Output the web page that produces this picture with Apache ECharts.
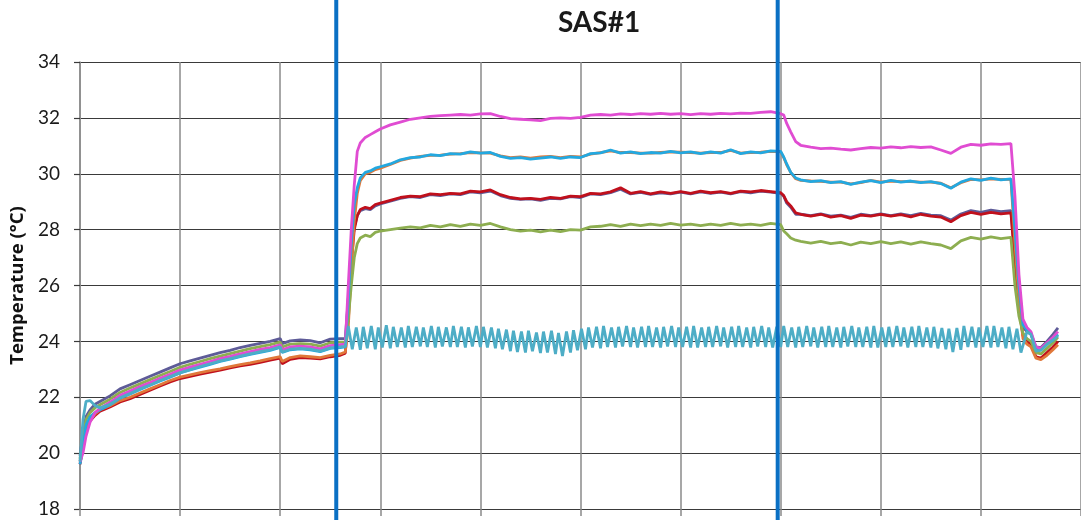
<!DOCTYPE html>
<html>
<head>
<meta charset="utf-8">
<script src="https://cdn.jsdelivr.net/npm/echarts@6/dist/echarts.min.js"></script>
<style>
html,body{margin:0;padding:0;background:#fff;}
#chart{width:1081px;height:520px;}
</style>
</head>
<body>
<div id="chart"></div>
<script>
// ---- Data (x = elapsed time in grid units: 100 per major gridline) ----
const titleText = 'SAS#1';
const yAxisName = 'Temperature (°C)';
const yTicks = [18, 20, 22, 24, 26, 28, 30, 32, 34];
const markerTimes = [256, 697];

const time = [0,3,6,10,15,20,30,40,50,60,70,80,90,100,110,120,130,140,150,160,170,180,190,200,202,210,220,230,240,250,260,265,
  268,271,274,277,280,285,290,295,300,
  310,320,330,340,350,360,370,380,390,400,410,420,430,440,450,460,470,480,490,500,510,520,530,540,550,560,570,580,590,600,610,620,630,640,650,660,670,680,690,700,
  703,706,710,715,
  720,730,740,750,760,770,780,790,800,810,820,830,840,850,860,870,880,890,900,910,920,930,
  934,938,942,946,950,955,960,966,972,977];

const purple = [19.9,20.7,21.3,21.55,21.75,21.85,22.05,22.3,22.45,22.6,22.75,22.9,23.05,23.2,23.3,23.4,23.5,23.6,23.68,23.78,23.86,23.93,24.0,24.1,23.92,24.02,24.05,24.03,23.95,24.08,24.1,24.1,
  25.5,27.2,28.1,28.5,28.68,28.75,28.72,28.85,28.92,
  29.02,29.12,29.18,29.15,29.25,29.22,29.28,29.25,29.35,29.32,29.38,29.22,29.12,29.08,29.1,29.05,29.12,29.1,29.18,29.15,29.28,29.25,29.32,29.45,29.28,29.33,29.26,29.32,29.28,29.34,29.28,29.35,29.3,29.34,29.28,29.36,29.32,29.38,29.34,29.3,
  29.2,28.95,28.8,28.55,
  28.55,28.5,28.56,28.48,28.52,28.44,28.55,28.5,28.56,28.5,28.56,28.5,28.58,28.52,28.5,28.34,28.56,28.68,28.62,28.7,28.64,28.68,
  27.0,25.5,24.5,24.35,24.25,23.8,23.78,24.0,24.25,24.48];

const darkRed = [19.6,20.2,20.8,21.15,21.35,21.5,21.65,21.83,21.95,22.1,22.25,22.4,22.55,22.67,22.75,22.83,22.9,22.97,23.05,23.12,23.18,23.25,23.33,23.4,23.2,23.36,23.42,23.4,23.37,23.45,23.5,23.58,
  25.0,26.8,28.0,28.5,28.72,28.8,28.75,28.9,28.95,
  29.05,29.15,29.2,29.18,29.28,29.25,29.3,29.28,29.38,29.35,29.42,29.25,29.15,29.1,29.12,29.08,29.15,29.12,29.2,29.18,29.3,29.28,29.35,29.5,29.3,29.36,29.28,29.35,29.3,29.36,29.3,29.38,29.32,29.36,29.3,29.38,29.35,29.4,29.36,29.32,
  29.22,29.0,28.85,28.6,
  28.55,28.48,28.55,28.45,28.5,28.4,28.52,28.48,28.55,28.48,28.54,28.46,28.55,28.48,28.45,28.28,28.5,28.62,28.55,28.62,28.56,28.6,
  26.8,25.2,24.2,24.0,23.9,23.45,23.4,23.6,23.8,24.0];

const orange = [19.7,20.3,20.9,21.2,21.4,21.55,21.7,21.88,22.0,22.15,22.3,22.45,22.6,22.72,22.8,22.88,22.95,23.02,23.1,23.17,23.23,23.3,23.38,23.45,23.28,23.42,23.48,23.45,23.42,23.5,23.55,23.62,
  24.5,26.5,28.3,29.3,29.75,30.0,30.05,30.15,30.2,
  30.33,30.48,30.56,30.62,30.66,30.67,30.7,30.72,30.76,30.75,30.74,30.64,30.58,30.6,30.56,30.6,30.62,30.58,30.62,30.6,30.7,30.76,30.82,30.76,30.76,30.74,30.74,30.76,30.78,30.77,30.76,30.74,30.76,30.76,30.84,30.74,30.76,30.77,30.8,30.78,
  30.58,30.32,30.05,29.82,
  29.76,29.74,29.73,29.7,29.7,29.64,29.68,29.76,29.7,29.74,29.72,29.72,29.7,29.7,29.66,29.5,29.68,29.8,29.78,29.82,29.8,29.8,
  27.5,25.5,24.1,23.9,23.8,23.4,23.35,23.5,23.7,23.88];

const green = [19.8,20.5,21.2,21.45,21.62,21.73,21.93,22.17,22.33,22.48,22.63,22.78,22.92,23.07,23.18,23.28,23.38,23.47,23.56,23.65,23.74,23.81,23.88,23.97,23.8,23.9,23.92,23.9,23.83,23.95,23.97,23.98,
  24.8,26.0,27.0,27.5,27.7,27.8,27.75,27.9,27.95,
  28.0,28.05,28.1,28.06,28.15,28.1,28.18,28.12,28.2,28.15,28.22,28.1,28.0,27.95,27.98,27.92,27.98,27.93,28.0,27.98,28.1,28.12,28.18,28.12,28.2,28.14,28.2,28.15,28.22,28.16,28.2,28.14,28.2,28.15,28.22,28.16,28.2,28.15,28.22,28.18,
  27.95,27.85,27.7,27.62,
  27.58,27.52,27.58,27.5,27.54,27.45,27.55,27.5,27.57,27.5,27.56,27.48,27.56,27.5,27.45,27.32,27.6,27.72,27.66,27.74,27.68,27.72,
  26.0,24.9,24.3,24.1,24.0,23.6,23.55,23.75,23.95,24.15];

const cyan = [19.6,20.2,21.0,21.3,21.45,21.55,21.73,21.97,22.12,22.28,22.43,22.58,22.72,22.87,22.98,23.08,23.18,23.28,23.36,23.45,23.53,23.61,23.68,23.78,23.6,23.7,23.73,23.7,23.63,23.75,23.78,23.8,
  25.5,27.5,28.9,29.5,29.85,30.05,30.1,30.2,30.25,
  30.35,30.5,30.58,30.6,30.68,30.65,30.72,30.7,30.78,30.74,30.76,30.62,30.55,30.58,30.52,30.56,30.6,30.55,30.6,30.58,30.72,30.75,30.85,30.74,30.78,30.72,30.76,30.74,30.8,30.75,30.78,30.72,30.78,30.74,30.86,30.72,30.78,30.75,30.82,30.8,
  30.6,30.35,30.05,29.85,
  29.78,29.72,29.75,29.68,29.72,29.62,29.7,29.75,29.68,29.76,29.7,29.74,29.68,29.72,29.65,29.48,29.7,29.82,29.76,29.84,29.78,29.82,
  28.0,26.0,24.6,24.4,24.3,23.75,23.7,23.9,24.05,24.25];

const magenta = [19.7,20.0,20.6,21.1,21.45,21.6,21.82,22.07,22.22,22.38,22.53,22.68,22.82,22.97,23.08,23.18,23.28,23.38,23.46,23.55,23.63,23.71,23.78,23.88,23.7,23.8,23.83,23.8,23.73,23.85,23.88,23.9,
  26.0,28.0,29.6,30.8,31.1,31.3,31.4,31.5,31.6,
  31.75,31.85,31.95,32.0,32.05,32.08,32.1,32.12,32.1,32.14,32.15,32.05,31.97,31.95,31.93,31.9,31.98,32.0,31.98,32.02,32.1,32.12,32.1,32.14,32.12,32.15,32.13,32.16,32.13,32.15,32.12,32.15,32.13,32.16,32.14,32.17,32.16,32.2,32.22,32.15,
  32.1,31.8,31.5,31.15,
  31.02,30.95,30.9,30.92,30.88,30.85,30.9,30.94,30.92,30.96,30.93,30.97,30.94,30.96,30.85,30.73,30.95,31.05,31.02,31.07,31.05,31.08,
  29.2,26.4,24.8,24.5,24.35,23.8,23.75,23.95,24.15,24.35];

const tealTime = [0,3,6,10,15,20,30,40,50,60,70,80,90,100,110,120,130,140,150,160,170,180,190,200,202,210,220,230,240,250,260,265,
  268,272,276,280, 283,287,291,295, 298,302,306,310, 313,317,321,325, 328,332,336,340,
  343,347,351,355, 358,362,366,370, 373,377,381,385, 388,392,396,400, 403,407,411,415,
  418,422,426,430, 433,437,441,445, 448,452,456,460, 463,467,471,475, 478,482,486,490,
  493,497,501,505, 508,512,516,520, 523,527,531,535, 538,542,546,550, 553,557,561,565,
  568,572,576,580, 583,587,591,595, 598,602,606,610, 613,617,621,625, 628,632,636,640,
  643,647,651,655, 658,662,666,670, 673,677,681,685, 688,692,696,700, 703,707,711,715,
  718,722,726,730, 733,737,741,745, 748,752,756,760, 763,767,771,775, 778,782,786,790,
  793,797,801,805, 808,812,816,820, 823,827,831,835, 838,842,846,850, 853,857,861,865,
  868,872,876,880, 883,887,891,895, 898,902,906,910, 913,917,921,925, 928,932,936,940,
  946,950,955,960,966,972,977];

const teal = [19.7,21.2,21.85,21.88,21.7,21.62,21.75,21.98,22.13,22.3,22.44,22.6,22.74,22.88,22.99,23.1,23.2,23.3,23.38,23.47,23.55,23.63,23.7,23.8,23.62,23.72,23.75,23.72,23.65,23.77,23.8,23.82,
  24.55,23.72,24.5,23.7, 24.52,23.75,24.55,23.72, 24.5,23.78,24.58,23.75, 24.52,23.8,24.5,23.78, 24.55,23.8,24.52,23.82,
  24.5,23.8,24.55,23.78, 24.52,23.82,24.5,23.8, 24.55,23.8,24.52,23.78, 24.5,23.82,24.55,23.8, 24.52,23.78,24.5,23.75,
  24.45,23.72,24.42,23.65, 24.38,23.62,24.35,23.6, 24.38,23.65,24.32,23.58, 24.35,23.6,24.38,23.55, 24.3,23.48,24.35,23.6,
  24.4,23.68,24.45,23.72, 24.5,23.78,24.52,23.75, 24.55,23.8,24.5,23.78, 24.52,23.82,24.55,23.8, 24.5,23.78,24.52,23.8,
  24.55,23.8,24.5,23.78, 24.52,23.82,24.55,23.8, 24.5,23.8,24.52,23.78, 24.55,23.78,24.5,23.8, 24.52,23.8,24.55,23.82,
  24.5,23.78,24.52,23.8, 24.55,23.8,24.5,23.78, 24.52,23.82,24.55,23.8, 24.5,23.78,24.52,23.8, 24.55,23.8,24.5,23.78,
  24.52,23.8,24.55,23.82, 24.5,23.78,24.52,23.8, 24.55,23.8,24.5,23.78, 24.52,23.82,24.55,23.8, 24.5,23.8,24.52,23.78,
  24.55,23.78,24.5,23.8, 24.52,23.8,24.55,23.82, 24.5,23.78,24.52,23.8, 24.55,23.8,24.5,23.78, 24.52,23.75,24.48,23.72,
  24.45,23.62,24.48,23.7, 24.55,23.8,24.52,23.78, 24.5,23.8,24.55,23.78, 24.55,23.8,24.5,23.75, 24.52,23.72,24.45,23.6,
  24.35,24.25,23.65,23.68,23.9,24.05,24.2];

// ---- Chart ----
function pairs(xs, ys) { return xs.map((x, i) => [x, ys[i]]); }

const chart = echarts.init(document.getElementById('chart'), null, {renderer: 'canvas'});

const lineSeries = [
  {name: 'purple', color: '#5E5B98', values: purple, xs: time},
  {name: 'darkRed', color: '#C0101C', values: darkRed, xs: time},
  {name: 'orange', color: '#E0783A', values: orange, xs: time},
  {name: 'green', color: '#8DAE50', values: green, xs: time},
  {name: 'cyan', color: '#23A8E0', values: cyan, xs: time},
  {name: 'magenta', color: '#E04CD2', values: magenta, xs: time},
  {name: 'teal', color: '#4DADC6', values: teal, xs: tealTime}
].map(s => ({
  type: 'line', name: s.name, xAxisIndex: 0, yAxisIndex: 0,
  data: pairs(s.xs, s.values), showSymbol: false, symbol: 'none',
  lineStyle: {color: s.color, width: 2.8}, itemStyle: {color: s.color},
  silent: true, z: 3
}));

const markerSeries = markerTimes.map(t => ({
  type: 'line', xAxisIndex: 1, yAxisIndex: 1,
  data: [[t, 0], [t, 1]], showSymbol: false, symbol: 'none',
  lineStyle: {color: '#0A70C4', width: 4}, silent: true, z: 10
}));

chart.setOption({
  animation: false,
  backgroundColor: '#ffffff',
  title: {
    text: titleText, left: 594, top: 4, textAlign: 'center',
    textStyle: {fontFamily: 'Lato', fontWeight: 'bold', fontSize: 28, color: '#1a1a1a'}
  },
  grid: [
    {left: 80, right: -2, top: 62, bottom: 11, containLabel: false},
    {left: 80, right: -2, top: 0, bottom: 0, containLabel: false}
  ],
  xAxis: [
    {
      type: 'value', gridIndex: 0, min: 0, max: 1000, interval: 100,
      axisLabel: {show: false},
      axisLine: {show: true, onZero: false, lineStyle: {color: '#3a3a3a', width: 1.2}},
      axisTick: {show: true, inside: false, length: 7, lineStyle: {color: '#8a8a8a', width: 1.5}},
      splitLine: {show: true, lineStyle: {color: '#8a8a8a', width: 1.5}}
    },
    {type: 'value', gridIndex: 1, min: 0, max: 1000, show: false}
  ],
  yAxis: [
    {
      type: 'value', gridIndex: 0, min: yTicks[0], max: yTicks[yTicks.length - 1], interval: 2,
      name: yAxisName, nameLocation: 'middle', nameGap: 50, nameRotate: 90,
      nameTextStyle: {fontFamily: 'Open Sans', fontWeight: 'bold', fontSize: 18.5, color: '#111'},
      axisLabel: {fontFamily: 'Lato', fontSize: 19, color: '#1a1a1a', margin: 20},
      axisLine: {show: true, lineStyle: {color: '#8a8a8a', width: 1.5}},
      axisTick: {show: true, inside: false, length: 6, lineStyle: {color: '#3a3a3a', width: 1.2}},
      splitLine: {show: true, lineStyle: {color: '#3a3a3a', width: 1.2}}
    },
    {type: 'value', gridIndex: 1, min: 0, max: 1, show: false}
  ],
  series: lineSeries.concat(markerSeries)
});
</script>
</body>
</html>
